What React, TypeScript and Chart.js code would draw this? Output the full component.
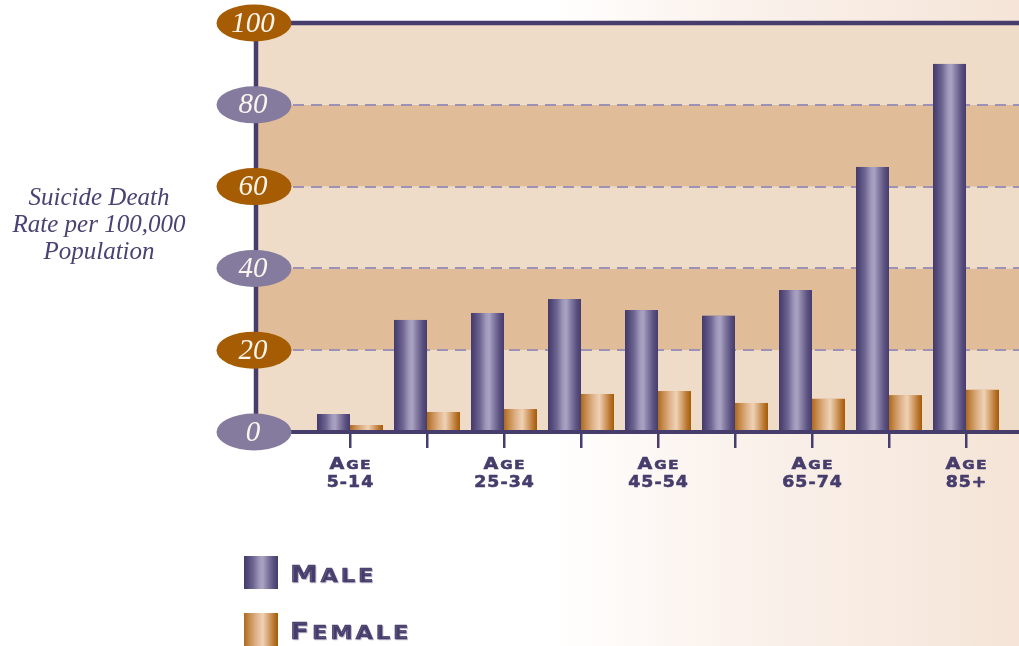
import { useEffect, useRef } from 'react';
import { Chart, registerables } from 'chart.js';

Chart.register(...registerables);

const categories = ['5-14', '15-24', '25-34', '35-44', '45-54', '55-64', '65-74', '75-84', '85+'];
const labeledCategories = ['5-14', '25-34', '45-54', '65-74', '85+'];
const maleRates = [4.4, 27.4, 29.1, 32.5, 29.8, 28.4, 34.7, 64.8, 90.0];
const femaleRates = [1.7, 4.9, 5.6, 9.3, 10.0, 7.1, 8.1, 9.0, 10.3];
const yTickValues = [0, 20, 40, 60, 80, 100];
const seriesNames = ['Male', 'Female'];
const axisTitleLines = ['Suicide Death', 'Rate per 100,000', 'Population'];
const tickPrefix = 'Age';

const PURPLE = '#463d6c';
const MALE_STOPS: [number, string][] = [
  [0, '#433a69'], [0.12, '#544b7c'], [0.28, '#6f6892'], [0.45, '#a098bb'],
  [0.55, '#aaa3c3'], [0.7, '#827a9f'], [0.86, '#5b5283'], [1, '#453c6a'],
];
const FEMALE_STOPS: [number, string][] = [
  [0, '#ad6920'], [0.15, '#c58a4c'], [0.35, '#deb187'], [0.55, '#efd2b6'],
  [0.72, '#d6a36f'], [0.88, '#b8752f'], [1, '#a55a05'],
];

function makeGrad(ctx: CanvasRenderingContext2D, x0: number, x1: number, stops: [number, string][]) {
  const g = ctx.createLinearGradient(x0, 0, x1, 0);
  stops.forEach(([o, c]) => g.addColorStop(o, c));
  return g;
}

type Seg = { t: string; size: number };
function smallCapsSegs(text: string, big: number, small: number): Seg[] {
  const segs: Seg[] = [];
  const words = text.split(' ');
  words.forEach((w, wi) => {
    if (wi > 0) segs.push({ t: ' ', size: small });
    segs.push({ t: w[0].toUpperCase(), size: big });
    if (w.length > 1) segs.push({ t: w.slice(1).toUpperCase(), size: small });
  });
  return segs;
}

function drawSegs(
  ctx: CanvasRenderingContext2D,
  segs: Seg[],
  x: number,
  y: number,
  align: 'left' | 'center',
  family: string,
  spacing: number,
  stretch: number,
) {
  ctx.save();
  (ctx as any).letterSpacing = spacing + 'px';
  ctx.textAlign = 'left';
  ctx.textBaseline = 'alphabetic';
  let total = 0;
  const widths = segs.map((s) => {
    ctx.font = `bold ${s.size}px ${family}`;
    const w = ctx.measureText(s.t).width;
    total += w;
    return w;
  });
  total -= spacing;
  ctx.translate(x, y);
  ctx.scale(stretch, 1);
  let cx = align === 'center' ? -total / 2 : 0;
  ctx.strokeStyle = ctx.fillStyle as string;
  ctx.lineWidth = 0.6;
  ctx.lineJoin = 'round';
  segs.forEach((s, i) => {
    ctx.font = `bold ${s.size}px ${family}`;
    ctx.fillText(s.t, cx, 0);
    ctx.strokeText(s.t, cx, 0);
    cx += widths[i];
  });
  ctx.restore();
}

const SANS = '"DejaVu Sans", sans-serif';
const SERIF = '"Liberation Serif", "DejaVu Serif", serif';

const decorPlugin = {
  id: 'decor',
  beforeDatasetsDraw(chart: any) {
    const { ctx, chartArea, scales } = chart;
    const y = scales.y;
    ctx.save();
    for (let i = 0; i < yTickValues.length - 1; i++) {
      const y0 = y.getPixelForValue(yTickValues[i]);
      const y1 = y.getPixelForValue(yTickValues[i + 1]);
      ctx.fillStyle = i % 2 === 0 ? '#efdcc8' : '#e0bc99';
      ctx.fillRect(chartArea.left, y1, chartArea.right - chartArea.left, y0 - y1);
    }
    ctx.strokeStyle = '#9d92b5';
    ctx.lineWidth = 2;
    ctx.setLineDash([11, 7]);
    yTickValues.slice(1, -1).forEach((v) => {
      const py = Math.round(y.getPixelForValue(v));
      ctx.beginPath();
      ctx.moveTo(chartArea.left, py);
      ctx.lineTo(chartArea.right, py);
      ctx.stroke();
    });
    ctx.restore();
  },
  afterDatasetsDraw(chart: any) {
    const { ctx } = chart;
    ctx.save();
    chart.data.datasets.forEach((ds: any, di: number) => {
      const meta = chart.getDatasetMeta(di);
      const stops = di === 0 ? MALE_STOPS : FEMALE_STOPS;
      meta.data.forEach((el: any) => {
        const p = el.getProps(['x', 'y', 'base', 'width'], true);
        const x0 = p.x - p.width / 2;
        const x1 = p.x + p.width / 2;
        ctx.fillStyle = makeGrad(ctx, x0, x1, stops);
        ctx.fillRect(x0, p.y, x1 - x0, p.base - p.y);
      });
    });
    ctx.restore();
  },
  afterDraw(chart: any) {
    const { ctx, chartArea, scales } = chart;
    const y = scales.y;
    const x = scales.x;
    ctx.save();
    ctx.strokeStyle = PURPLE;
    ctx.lineWidth = 4.5;
    ctx.setLineDash([]);
    const top = y.getPixelForValue(100);
    const bottom = y.getPixelForValue(0);
    ctx.beginPath();
    ctx.moveTo(chartArea.left - 1, top);
    ctx.lineTo(chartArea.right, top);
    ctx.stroke();
    ctx.beginPath();
    ctx.moveTo(chartArea.left - 1, top);
    ctx.lineTo(chartArea.left - 1, bottom);
    ctx.stroke();
    ctx.lineWidth = 4;
    ctx.beginPath();
    ctx.moveTo(chartArea.left - 1, bottom);
    ctx.lineTo(chartArea.right, bottom);
    ctx.stroke();

    yTickValues.forEach((v) => {
      const py = y.getPixelForValue(v);
      ctx.beginPath();
      ctx.ellipse(chartArea.left - 3, py, 37.5, 18.5, 0, 0, Math.PI * 2);
      ctx.fillStyle = (v / 20) % 2 === 1 ? '#a65c02' : '#857b9f';
      ctx.fill();
      ctx.fillStyle = '#fbf5ee';
      ctx.font = `italic 29px ${SERIF}`;
      ctx.textAlign = 'center';
      ctx.textBaseline = 'middle';
      ctx.fillText(String(v), chartArea.left - 4, py + 1);
    });

    ctx.fillStyle = '#4a4272';
    ctx.font = `italic 25px ${SERIF}`;
    ctx.textAlign = 'center';
    ctx.textBaseline = 'alphabetic';
    axisTitleLines.forEach((line, i) => {
      ctx.fillText(line, 99, 205 + i * 27);
    });

    ctx.fillStyle = PURPLE;
    categories.forEach((c, i) => {
      if (!labeledCategories.includes(c)) return;
      const px = x.getPixelForValue(i);
      drawSegs(ctx, smallCapsSegs(tickPrefix, 16, 12.5), px, 469, 'center', SANS, 1.5, 1.2);
      drawSegs(ctx, [{ t: c, size: 16 }], px, 487, 'center', SANS, 1, 1.08);
    });

    chart.data.datasets.forEach((ds: any, di: number) => {
      const ly = 556 + di * 57;
      const stops = di === 0 ? MALE_STOPS : FEMALE_STOPS;
      ctx.fillStyle = makeGrad(ctx, 244, 278, stops);
      ctx.fillRect(244, ly, 34, 33);
      ctx.shadowColor = 'rgba(150,140,170,0.5)';
      ctx.shadowOffsetX = 1;
      ctx.shadowOffsetY = 1;
      ctx.fillStyle = PURPLE;
      drawSegs(ctx, smallCapsSegs(ds.label, 23.5, 19), 290, ly + 26, 'left', SANS, 2.5, 1.18);
      ctx.shadowColor = 'transparent';
    });
    ctx.restore();
  },
};

export default function App() {
  const canvasRef = useRef<HTMLCanvasElement | null>(null);

  useEffect(() => {
    if (!canvasRef.current) return;
    const chart = new Chart(canvasRef.current, {
      type: 'bar',
      data: {
        datasets: [
          {
            label: seriesNames[0],
            data: maleRates.map((v, i) => ({ x: i, y: v })),
            backgroundColor: '#6f6892',
            borderWidth: 0,
          },
          {
            label: seriesNames[1],
            data: femaleRates.map((v, i) => ({ x: i, y: v })),
            backgroundColor: '#d6a36f',
            borderWidth: 0,
          },
        ],
      },
      options: {
        animation: false,
        responsive: true,
        maintainAspectRatio: false,
        categoryPercentage: 66 / 77,
        barPercentage: 1,
        layout: { padding: { left: 257, top: 23, right: 0, bottom: 0 } },
        plugins: { legend: { display: false }, tooltip: { enabled: false } },
        scales: {
          x: {
            type: 'linear',
            min: -93 / 77,
            max: 8 + 53 / 77,
            offset: false,
            ticks: { stepSize: 1, display: false },
            afterBuildTicks: (scale: any) => {
              scale.ticks = categories.map((_, i) => ({ value: i }));
            },
            afterFit: (scale: any) => {
              scale.height = 214;
            },
            grid: {
              display: true,
              offset: false,
              drawOnChartArea: false,
              drawTicks: true,
              tickLength: 16,
              color: PURPLE,
              lineWidth: 2.5,
            },
            border: { display: false },
          },
          y: {
            display: false,
            min: 0,
            max: 100,
          },
        },
      },
      plugins: [decorPlugin],
    } as any);
    return () => chart.destroy();
  }, []);

  return (
    <div
      style={{
        position: 'fixed',
        left: 0,
        top: 0,
        width: 1019,
        height: 646,
        overflow: 'hidden',
        background: 'linear-gradient(to right, #ffffff 0%, #ffffff 54%, #fbf3ee 70%, #f5e4d7 100%)',
      }}
    >
      <canvas ref={canvasRef} />
    </div>
  );
}
